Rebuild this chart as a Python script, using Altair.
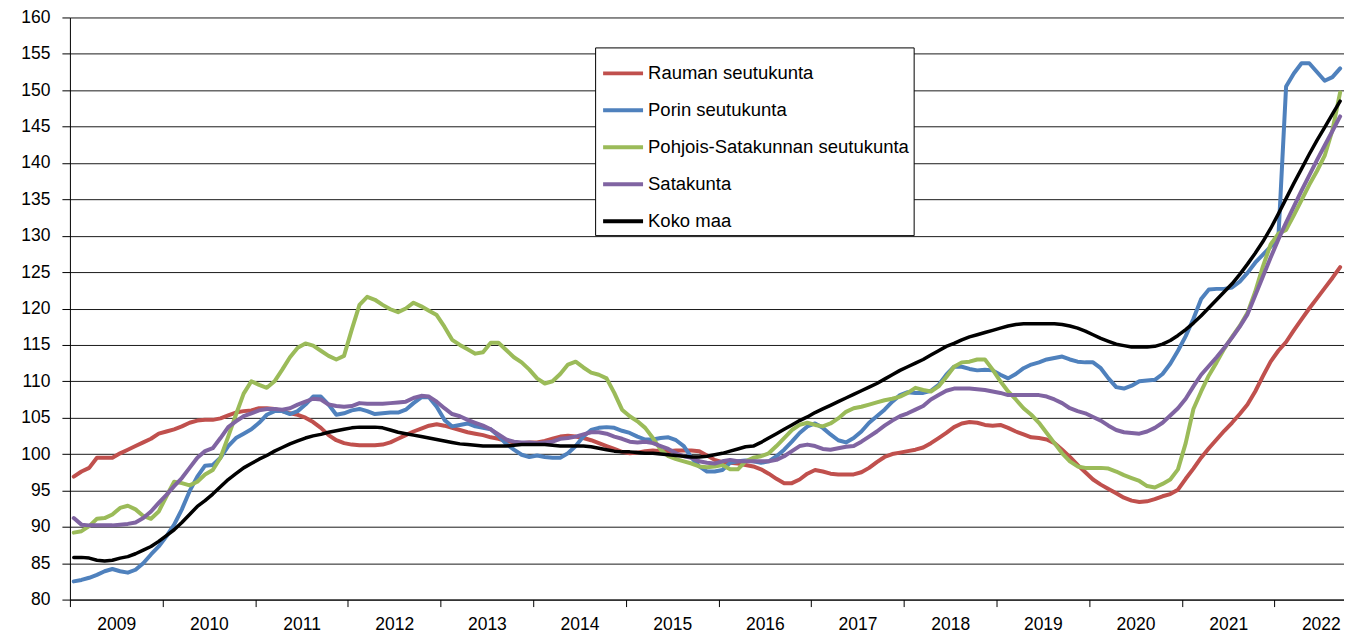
import altair as alt
import pandas as pd

# ---- data (monthly index, Jan 2009 - Sep 2022) ----
START_YEAR = 2009
YEARS = list(range(2009, 2023))
SERIES = ["Rauman seutukunta", "Porin seutukunta",
          "Pohjois-Satakunnan seutukunta", "Satakunta", "Koko maa"]
COLORS = ["#C0504D", "#4F81BD", "#9BBB59", "#8064A2", "#000000"]
Y_TICKS = list(range(80, 161, 5))

rauma = [
    96.9, 97.6, 98.1, 99.5, 99.5, 99.5, 100.1, 100.6, 101.1, 101.6, 102.1, 102.8,
    103.1, 103.4, 103.8, 104.3, 104.6, 104.7, 104.7, 104.9, 105.3, 105.7, 105.9, 106.0,
    106.3, 106.3, 106.2, 105.9, 105.6, 105.4, 105.0, 104.4, 103.6, 102.6, 101.9, 101.5,
    101.3, 101.2, 101.2, 101.2, 101.3, 101.6, 102.1, 102.6, 103.1, 103.5, 103.9, 104.1,
    103.9, 103.6, 103.3, 103.0, 102.8, 102.6, 102.3, 102.1, 101.8, 101.6, 101.5, 101.6,
    101.6, 101.8, 102.1, 102.4, 102.5, 102.4, 102.2, 101.9, 101.5, 101.1, 100.7, 100.3,
    100.1, 100.2, 100.4, 100.5, 100.4, 100.4, 100.5, 100.5, 100.5, 100.4, 99.8, 99.2,
    98.9, 98.8, 98.7, 98.5, 98.3, 97.9, 97.3, 96.6, 96.0, 96.0, 96.5, 97.3,
    97.8, 97.6, 97.3, 97.2, 97.2, 97.2, 97.5, 98.1, 98.9, 99.6, 100.0, 100.2,
    100.4, 100.6, 100.9, 101.5, 102.2, 102.9, 103.7, 104.2, 104.4, 104.3, 104.0, 103.9,
    104.0, 103.6, 103.1, 102.7, 102.3, 102.2, 102.0, 101.5, 100.6, 99.6, 98.5, 97.5,
    96.5, 95.8, 95.2, 94.6, 94.0, 93.6, 93.4, 93.5, 93.8, 94.2, 94.5, 95.1,
    96.6, 98.0, 99.5, 100.8, 102.0, 103.2, 104.3, 105.5, 106.8, 108.6, 110.7, 112.7,
    114.2, 115.4, 117.0, 118.5, 120.0, 121.4, 122.8, 124.2, 125.7,
]

pori = [
    82.5, 82.7, 83.0, 83.4, 83.9, 84.2, 83.9, 83.7, 84.1, 85.0, 86.2, 87.3,
    88.7, 90.3, 92.4, 94.9, 96.9, 98.4, 98.5, 99.5, 101.1, 102.2, 102.8, 103.4,
    104.3, 105.4, 105.9, 105.9, 105.5, 105.9, 106.8, 107.9, 107.9, 106.8, 105.4, 105.6,
    106.0, 106.2, 105.9, 105.5, 105.6, 105.7, 105.7, 106.1, 107.0, 107.8, 107.8, 106.5,
    104.7, 103.8, 104.0, 104.2, 103.8, 103.6, 103.4, 102.5, 101.4, 100.6, 99.9, 99.6,
    99.8, 99.6, 99.5, 99.5, 100.1, 101.1, 102.4, 103.3, 103.6, 103.7, 103.6, 103.2,
    102.9, 102.4, 102.0, 102.0, 102.2, 102.3, 101.9, 101.1, 99.5, 98.3, 97.6, 97.6,
    97.8, 98.8, 99.0, 99.1, 99.0, 98.8, 99.0, 99.7, 100.6, 101.7, 102.9, 103.8,
    104.2, 103.6, 102.7, 101.9, 101.6, 102.2, 103.1, 104.3, 105.2, 106.1, 107.2, 108.1,
    108.5, 108.4, 108.4, 108.7, 109.5, 110.9, 112.0, 112.0, 111.7, 111.5, 111.6, 111.5,
    110.9, 110.4, 111.0, 111.8, 112.3, 112.6, 113.0, 113.2, 113.4, 113.0, 112.7, 112.6,
    112.6, 111.8, 110.4, 109.2, 109.0, 109.4, 110.0, 110.1, 110.2, 111.0, 112.4, 114.2,
    116.2, 118.6, 121.3, 122.6, 122.7, 122.7, 122.9, 123.7, 124.9, 126.3, 127.4, 128.5,
    129.7, 150.5, 152.3, 153.7, 153.7, 152.5, 151.3, 151.8, 153.0,
]

pohjois = [
    89.2, 89.4, 90.1, 91.1, 91.2, 91.7, 92.6, 92.9, 92.4, 91.5, 91.1, 92.1,
    94.2, 96.2, 96.0, 95.7, 96.2, 97.2, 97.8, 99.5, 102.4, 105.4, 108.3, 110.0,
    109.5, 109.1, 110.0, 111.6, 113.3, 114.6, 115.2, 114.9, 114.2, 113.5, 113.0, 113.5,
    117.1, 120.5, 121.6, 121.2, 120.5, 119.9, 119.5, 120.0, 120.8, 120.3, 119.7, 119.1,
    117.5, 115.7, 115.0, 114.4, 113.8, 114.0, 115.3, 115.3, 114.3, 113.3, 112.6, 111.6,
    110.4, 109.7, 110.0, 111.0, 112.3, 112.7, 111.9, 111.2, 110.9, 110.4, 108.4, 106.1,
    105.2, 104.5, 103.6, 102.2, 100.6, 99.7, 99.3, 99.0, 98.7, 98.3, 98.2, 98.3,
    98.5, 97.9, 97.9, 99.0, 99.5, 99.7, 100.1, 101.1, 102.2, 103.3, 104.0, 104.3,
    104.0, 103.8, 104.2, 104.9, 105.8, 106.3, 106.5, 106.8, 107.1, 107.4, 107.6, 107.9,
    108.4, 109.1, 108.8, 108.6, 109.3, 110.6, 112.0, 112.6, 112.7, 113.0, 113.0, 111.6,
    110.0, 108.6, 107.5, 106.3, 105.4, 104.3, 102.9, 101.5, 100.1, 99.0, 98.3, 98.1,
    98.1, 98.1, 98.0, 97.6, 97.1, 96.7, 96.3, 95.6, 95.4, 95.9, 96.5, 97.9,
    101.5, 106.2, 108.6, 110.8, 112.6, 114.5, 116.1, 117.6, 119.4, 122.3, 125.8, 128.8,
    130.3, 130.8, 132.8, 134.9, 137.0, 138.9, 141.0, 144.5, 149.7,
]

satakunta = [
    91.2, 90.3, 90.2, 90.2, 90.2, 90.2, 90.3, 90.4, 90.6, 91.2, 92.1, 93.3,
    94.4, 95.6, 96.7, 98.1, 99.5, 100.4, 100.8, 102.2, 103.7, 104.5, 105.2, 105.6,
    106.0, 106.2, 106.2, 106.1, 106.3, 106.8, 107.2, 107.6, 107.5, 106.8, 106.6, 106.5,
    106.6, 107.0, 106.9, 106.9, 106.9, 107.0, 107.1, 107.2, 107.7, 108.0, 107.9, 107.2,
    106.3, 105.5, 105.2, 104.7, 104.3, 103.9, 103.4, 102.7, 102.0, 101.7, 101.6, 101.6,
    101.5, 101.6, 101.7, 102.1, 102.2, 102.4, 102.7, 103.0, 103.0, 102.8, 102.4, 102.1,
    101.7, 101.6, 101.7, 101.5, 101.1, 100.7, 100.1, 99.7, 99.5, 99.0, 98.8, 98.7,
    99.0, 99.2, 99.0, 99.0, 99.0, 99.0, 99.0, 99.2, 99.7, 100.4, 101.1, 101.3,
    101.1, 100.7, 100.6, 100.8, 101.0, 101.1, 101.7, 102.4, 103.1, 103.9, 104.6, 105.2,
    105.6, 106.1, 106.6, 107.5, 108.1, 108.7, 109.0, 109.0, 109.0, 108.9, 108.8, 108.6,
    108.4, 108.1, 108.1, 108.1, 108.1, 108.1, 107.9, 107.5, 107.0, 106.3, 105.9, 105.6,
    105.1, 104.6, 103.9, 103.3, 103.0, 102.9, 102.8, 103.1, 103.6, 104.3, 105.3, 106.3,
    107.6, 109.3, 110.9, 112.1, 113.3, 114.6, 116.0, 117.5, 119.2, 121.8, 124.4, 127.0,
    129.5, 131.8, 134.0, 136.2, 138.3, 140.4, 142.4, 144.4, 146.4,
]

koko_maa = [
    85.8, 85.8, 85.7, 85.4, 85.3, 85.4, 85.7, 85.9, 86.3, 86.8, 87.3, 88.0,
    88.8, 89.6, 90.6, 91.7, 92.8, 93.6, 94.5, 95.5, 96.5, 97.3, 98.1, 98.7,
    99.3, 99.8, 100.4, 100.9, 101.4, 101.8, 102.2, 102.5, 102.7, 103.0, 103.2, 103.4,
    103.6, 103.7, 103.7, 103.7, 103.6, 103.3, 103.0, 102.8, 102.6, 102.4, 102.2, 102.0,
    101.8, 101.6, 101.4, 101.3, 101.2, 101.1, 101.1, 101.1, 101.1, 101.2, 101.3, 101.3,
    101.3, 101.3, 101.2, 101.1, 101.1, 101.1, 101.1, 101.0, 100.8, 100.6, 100.4, 100.3,
    100.3, 100.2, 100.1, 100.1, 100.0, 99.9, 99.8, 99.7, 99.6, 99.6, 99.7, 99.9,
    100.1, 100.4, 100.7, 101.0, 101.1, 101.6, 102.2, 102.8, 103.4, 104.0, 104.6, 105.1,
    105.7, 106.2, 106.7, 107.2, 107.7, 108.2, 108.7, 109.2, 109.7, 110.3, 110.9, 111.5,
    112.0, 112.5, 113.0, 113.6, 114.2, 114.8, 115.2, 115.7, 116.1, 116.4, 116.7, 117.0,
    117.3, 117.6, 117.8, 117.9, 117.9, 117.9, 117.9, 117.9, 117.8, 117.6, 117.3, 116.9,
    116.4, 115.9, 115.5, 115.1, 114.9, 114.7, 114.7, 114.7, 114.8, 115.1, 115.6, 116.3,
    117.1, 118.0, 119.0, 120.1, 121.2, 122.3, 123.4, 124.7, 126.1, 127.6, 129.2, 131.0,
    133.0, 135.1, 137.2, 139.2, 141.2, 143.1, 144.9, 146.7, 148.5,
]

VALUES = [rauma, pori, pohjois, satakunta, koko_maa]

rows = []
for name, vals in zip(SERIES, VALUES):
    for i, v in enumerate(vals):
        rows.append({
            "kk": i + 0.5,
            "vuosi": START_YEAR + i // 12,
            "kuukausi": i % 12 + 1,
            "sarja": name,
            "indeksi": v,
        })
df = pd.DataFrame(rows)

N_MONTHS = len(YEARS) * 12 - 3  # data through Sep 2022
W = 1276
H = 583
FONT = "Liberation Sans"
month_px = W / N_MONTHS

color_scale = alt.Scale(domain=SERIES, range=COLORS)

x_enc = alt.X(
    "kk:Q",
    scale=alt.Scale(domain=[0, N_MONTHS], nice=False, zero=False),
    axis=alt.Axis(
        values=[12 * k for k in range(len(YEARS))],
        labelExpr=f"'' + ({START_YEAR} + datum.value / 12)",
        labelOffset=6 * month_px,
        grid=False,
        title=None,
        tickSize=7,
        tickColor="black",
        domainColor="black",
        labelFont=FONT,
        labelFontSize=17.5,
        labelColor="black",
        labelPadding=9,
        labelFlush=False,
        labelOverlap=False,
        labelBound=False,
    ),
)
y_enc = alt.Y(
    "indeksi:Q",
    scale=alt.Scale(domain=[80, 160], nice=False, zero=False),
    axis=alt.Axis(
        values=Y_TICKS,
        grid=True,
        gridColor="#1a1a1a",
        gridWidth=1,
        title=None,
        tickSize=8,
        tickColor="black",
        domainColor="black",
        labelFont=FONT,
        labelFontSize=17.5,
        labelColor="black",
        labelPadding=12,
    ),
)

legend = alt.Legend(
    orient="none",
    legendX=526,
    legendY=30,
    title=None,
    symbolType="stroke",
    symbolStrokeWidth=4,
    symbolSize=1600,
    symbolOffset=2,
    labelFont=FONT,
    labelFontSize=18.5,
    labelColor="black",
    labelLimit=400,
    labelOffset=3,
    strokeColor="black",
    fillColor="white",
    padding=4,
    rowPadding=5,
)

base = alt.Chart(df)

colored = base.transform_filter(alt.datum.sarja != "Koko maa").mark_line(
    strokeWidth=4, strokeJoin="round", strokeCap="round"
).encode(
    x=x_enc,
    y=y_enc,
    color=alt.Color("sarja:N", scale=color_scale, sort=SERIES, legend=legend),
    order=alt.Order("kk:Q"),
)

black = base.transform_filter(alt.datum.sarja == "Koko maa").mark_line(
    strokeWidth=3.5, strokeJoin="round", strokeCap="round"
).encode(
    x=x_enc,
    y=y_enc,
    color=alt.Color("sarja:N", scale=color_scale, sort=SERIES, legend=legend),
    order=alt.Order("kk:Q"),
)

chart = alt.layer(colored, black).properties(
    width=W,
    height=H,
    autosize=alt.AutoSizeParams(type="none"),
    padding={"left": 62, "top": 9, "right": 0, "bottom": 38},
    background="white",
).configure_view(stroke=None)

chart.save("out.html", embed_options={"renderer": "svg", "actions": False})
